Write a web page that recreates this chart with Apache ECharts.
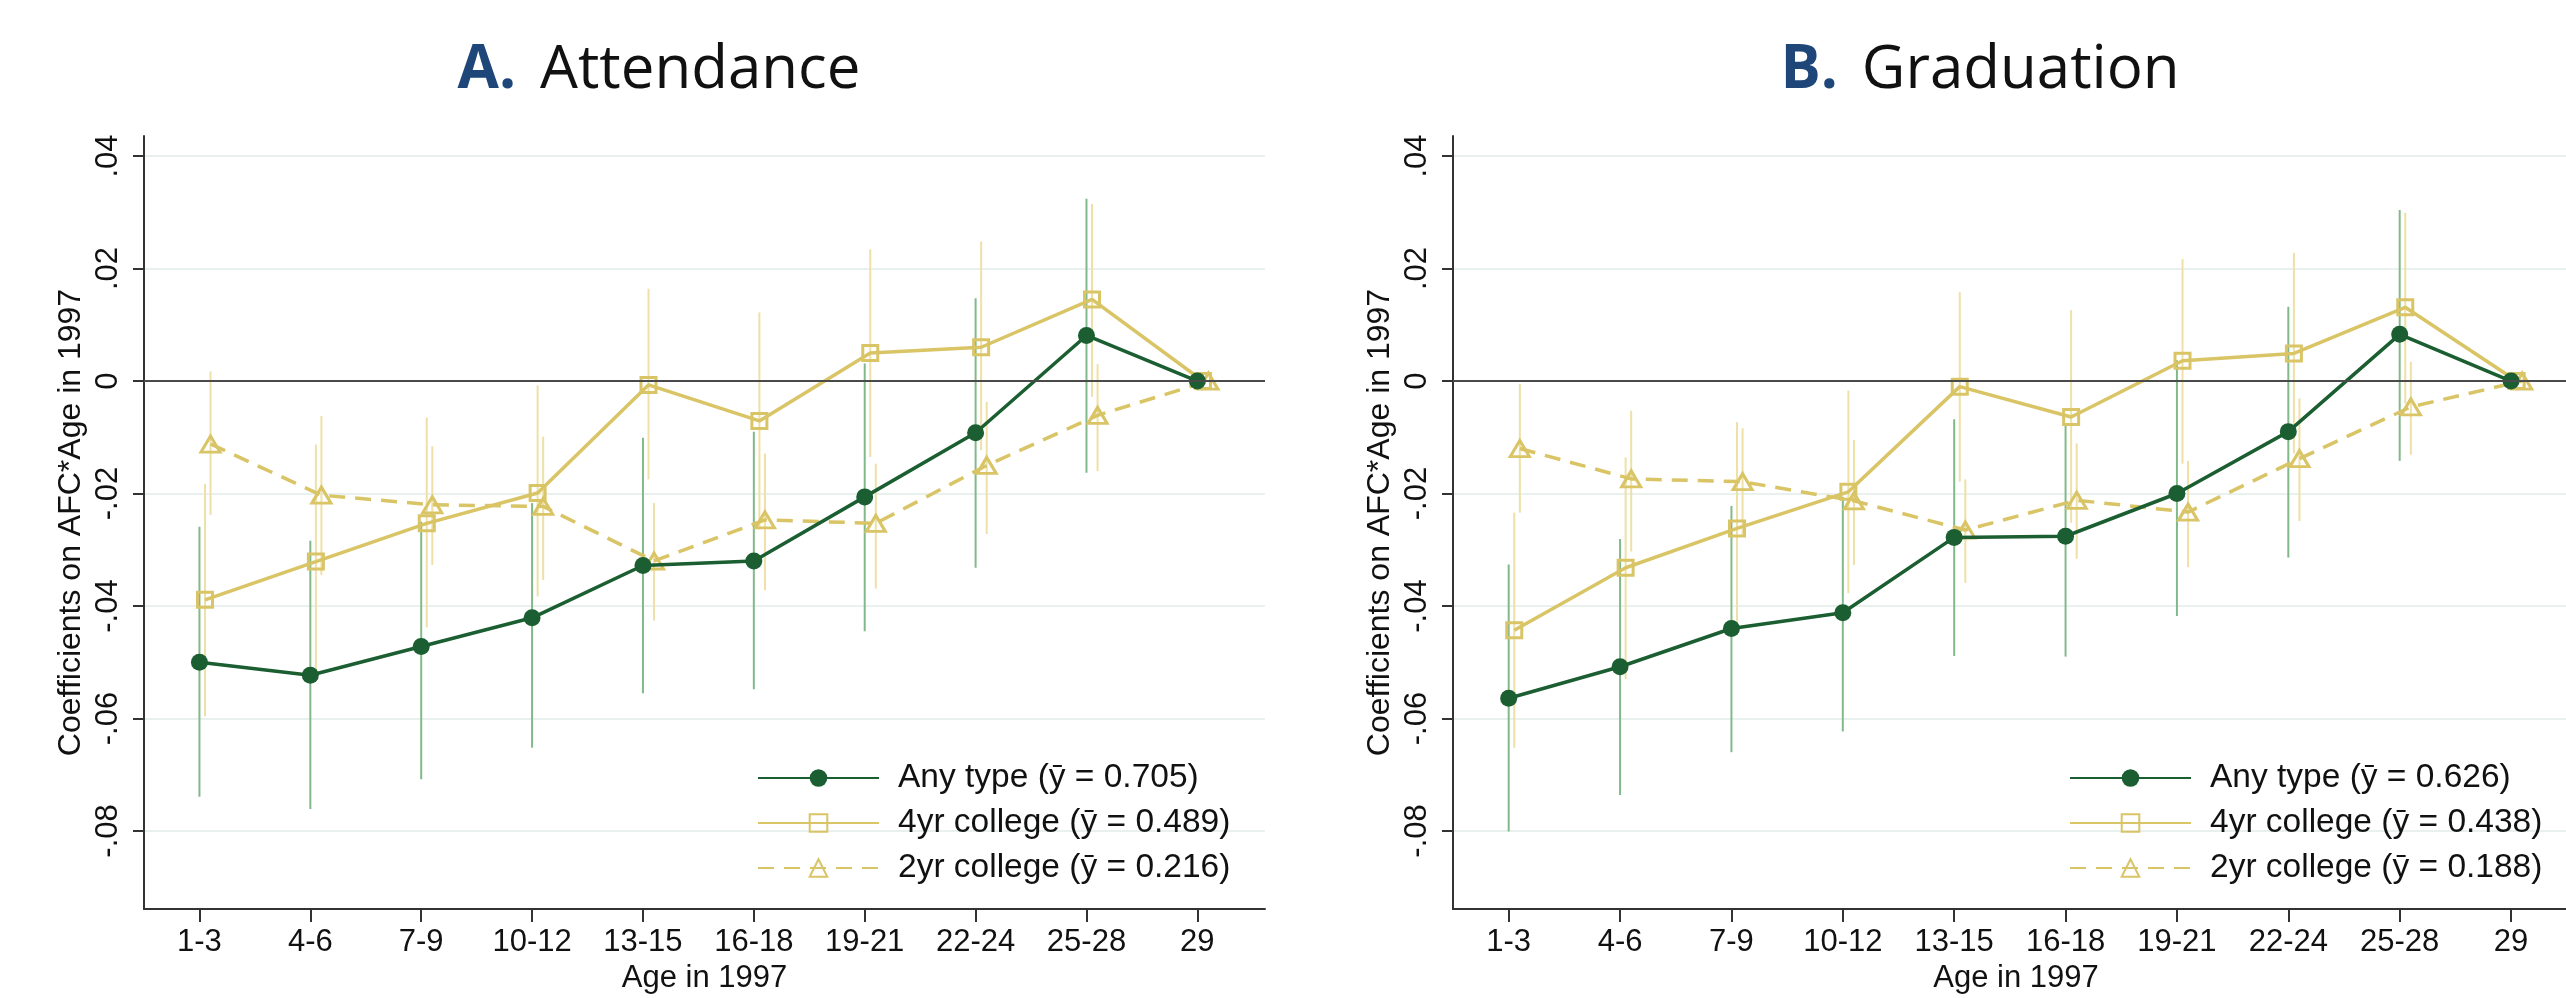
<!DOCTYPE html>
<html>
<head>
<meta charset="utf-8">
<title>Attendance and graduation</title>
<script src="https://cdn.jsdelivr.net/npm/echarts@6.0.0/dist/echarts.min.js"></script>
<style>
  body { margin: 0; background: #fff; }
  #main { width: 2566px; height: 998px; }
</style>
</head>
<body>
<div id="main"></div>
<script>
  // age groups on the x axis
  var ageGroups = ['1-3', '4-6', '7-9', '10-12', '13-15', '16-18', '19-21', '22-24', '25-28', '29'];
  var yTicks = [-0.08, -0.06, -0.04, -0.02, 0, 0.02, 0.04];

  // A. Attendance
  var attNames = ['Any type (ȳ = 0.705)', '4yr college (ȳ = 0.489)', '2yr college (ȳ = 0.216)'];
  var attAny = [-0.0500, -0.0523, -0.0472, -0.0421, -0.0328, -0.0320, -0.0206, -0.0092, 0.0081, 0];
  var attAnyLo = [-0.0739, -0.0761, -0.0708, -0.0652, -0.0555, -0.0548, -0.0445, -0.0332, -0.0163, 0];
  var attAnyHi = [-0.0259, -0.0284, -0.0250, -0.0217, -0.0101, -0.0090, 0.0031, 0.0147, 0.0324, 0];
  var att4yr = [-0.0389, -0.0321, -0.0253, -0.0199, -0.0007, -0.0071, 0.0050, 0.0060, 0.0145, 0];
  var att4yrLo = [-0.0596, -0.0528, -0.0438, -0.0383, -0.0175, -0.0264, -0.0135, -0.0123, -0.0028, 0];
  var att4yrHi = [-0.0183, -0.0113, -0.0065, -0.0008, 0.0164, 0.0122, 0.0234, 0.0248, 0.0315, 0];
  var att2yr = [-0.0112, -0.0203, -0.0220, -0.0223, -0.0320, -0.0247, -0.0253, -0.0150, -0.0061, 0];
  var att2yrLo = [-0.0238, -0.0345, -0.0327, -0.0354, -0.0426, -0.0372, -0.0369, -0.0272, -0.0160, 0];
  var att2yrHi = [0.0017, -0.0062, -0.0116, -0.0099, -0.0217, -0.0129, -0.0147, -0.0037, 0.0030, 0];

  // B. Graduation
  var grdNames = ['Any type (ȳ = 0.626)', '4yr college (ȳ = 0.438)', '2yr college (ȳ = 0.188)'];
  var grdAny = [-0.0564, -0.0508, -0.0440, -0.0412, -0.0278, -0.0276, -0.0200, -0.0090, 0.0083, 0];
  var grdAnyLo = [-0.0801, -0.0736, -0.0660, -0.0623, -0.0489, -0.0490, -0.0418, -0.0314, -0.0142, 0];
  var grdAnyHi = [-0.0326, -0.0281, -0.0222, -0.0206, -0.0068, -0.0075, 0.0037, 0.0132, 0.0304, 0];
  var grd4yr = [-0.0443, -0.0332, -0.0262, -0.0197, -0.0010, -0.0064, 0.0036, 0.0049, 0.0131, 0];
  var grd4yrLo = [-0.0652, -0.0530, -0.0440, -0.0377, -0.0179, -0.0252, -0.0147, -0.0129, -0.0040, 0];
  var grd4yrHi = [-0.0234, -0.0136, -0.0073, -0.0017, 0.0158, 0.0126, 0.0217, 0.0228, 0.0299, 0];
  var grd2yr = [-0.0120, -0.0174, -0.0179, -0.0213, -0.0265, -0.0212, -0.0233, -0.0138, -0.0046, 0];
  var grd2yrLo = [-0.0234, -0.0303, -0.0275, -0.0327, -0.0359, -0.0316, -0.0331, -0.0249, -0.0131, 0];
  var grd2yrHi = [-0.0005, -0.0053, -0.0084, -0.0105, -0.0175, -0.0111, -0.0142, -0.0031, 0.0034, 0];

  var GREEN = '#1b5e31';
  var GOLD = '#d9c466';
  var CI_GREEN = '#82b98a';
  var CI_GOLD = '#eee0a6';
  var FONT = '"Liberation Sans", Arial, sans-serif';
  // small horizontal shift between the three series, in category units
  var dodge = [0, 0.05, 0.10];

  var chartDom = document.getElementById('main');
  var myChart = echarts.init(chartDom);

  function ciSeries(panel, s, lo, hi, color) {
    return {
      type: 'custom',
      xAxisIndex: panel,
      yAxisIndex: panel,
      z: 1,
      silent: true,
      encode: { x: 0, y: [1, 2] },
      data: ageGroups.map(function (g, i) { return [i + dodge[s], lo[i], hi[i]]; }),
      renderItem: function (params, api) {
        var x = api.value(0);
        var p1 = api.coord([x, api.value(1)]);
        var p2 = api.coord([x, api.value(2)]);
        return {
          type: 'line',
          shape: { x1: p1[0], y1: p1[1], x2: p2[0], y2: p2[1] },
          style: { stroke: color, lineWidth: 2 }
        };
      }
    };
  }

  function lineSeries(panel, s, name, est) {
    var st = [
      { symbol: 'circle', size: 17, fill: GREEN, line: GREEN, type: 'solid' },
      { symbol: 'rect', size: 15, fill: 'rgba(255,255,255,0)', line: GOLD, type: 'solid' },
      { symbol: 'triangle', size: [19, 16], fill: 'rgba(255,255,255,0)', line: GOLD, type: [16, 10] }
    ][s];
    var ser = {
      name: name,
      type: 'line',
      xAxisIndex: panel,
      yAxisIndex: panel,
      z: 3 - s / 10,
      data: ageGroups.map(function (g, i) { return [i + dodge[s], est[i]]; }),
      symbol: st.symbol,
      symbolSize: st.size,
      showAllSymbol: true,
      lineStyle: { color: st.line, width: 3.5, type: st.type },
      itemStyle: { color: st.fill, borderColor: st.line, borderWidth: s === 0 ? 0 : 3 }
    };
    if (s === 0) {
      ser.markLine = {
        silent: true,
        symbol: 'none',
        label: { show: false },
        lineStyle: { color: '#4a4a4a', width: 2, type: 'solid' },
        data: [{ yAxis: 0 }]
      };
    }
    return ser;
  }

  function xAxis(grid) {
    return {
      type: 'value',
      gridIndex: grid,
      min: -0.5,
      max: 9.61,
      axisLine: { show: true, onZero: false, lineStyle: { color: '#333', width: 2 } },
      axisTick: { show: true, length: 13, customValues: ageGroups.map(function (g, i) { return i; }), lineStyle: { color: '#333', width: 2 } },
      axisLabel: {
        customValues: ageGroups.map(function (g, i) { return i; }),
        formatter: function (v) { return ageGroups[Math.round(v)]; },
        margin: 18, fontSize: 31, fontFamily: FONT, color: '#111'
      },
      splitLine: { show: false },
      name: 'Age in 1997',
      nameLocation: 'middle',
      nameGap: 54,
      nameTextStyle: { fontSize: 31, fontFamily: FONT, color: '#111' }
    };
  }

  function yAxis(grid) {
    return {
      type: 'value',
      gridIndex: grid,
      min: -0.09387,
      max: 0.04356,
      axisLine: { show: true, onZero: false, lineStyle: { color: '#333', width: 2 } },
      axisTick: { show: true, length: 11, customValues: yTicks, lineStyle: { color: '#333', width: 2 } },
      axisLabel: {
        customValues: yTicks,
        rotate: 90,
        margin: 20,
        fontSize: 31, fontFamily: FONT, color: '#111',
        formatter: function (v) {
          var t = String(Math.round(v * 100) / 100);
          return t.replace('0.', '.');
        }
      },
      splitLine: { show: true, lineStyle: { color: '#e9f1ef', width: 2 } },
      name: 'Coefficients on AFC*Age in 1997',
      nameLocation: 'middle',
      nameRotate: 90,
      nameGap: 57,
      nameTextStyle: { fontSize: 32, fontFamily: FONT, color: '#111' }
    };
  }

  function legend(left, names) {
    return {
      data: names,
      orient: 'vertical',
      left: left,
      top: 761,
      padding: 0,
      itemWidth: 121,
      itemHeight: 22,
      itemGap: 11,
      selectedMode: false,
      textStyle: { fontSize: 33.5, lineHeight: 34, fontFamily: FONT, color: '#111', padding: [0, 0, 0, 14] }
    };
  }

  function title(left, letter, word) {
    return {
      text: '{a|' + letter + '}{b|' + word + '}',
      left: left,
      top: 36,
      textAlign: 'center',
      textStyle: {
        rich: {
          a: { fontSize: 60, fontFamily: '"Open Sans", Lato, sans-serif', fontWeight: 'bold', color: '#1e4679' },
          b: { fontSize: 60, fontFamily: '"Open Sans", Lato, sans-serif', fontWeight: 'normal', color: '#111', padding: [0, 0, 0, 24] }
        }
      }
    };
  }

  var option = {
    backgroundColor: '#fff',
    animation: false,
    title: [title(654, 'A.', 'Attendance'), title(1975, 'B.', 'Graduation')],
    legend: [legend(757, attNames), legend(2069, grdNames)],
    grid: [
      { left: 144, top: 136, width: 1121, height: 773, outerBoundsMode: 'none' },
      { left: 1453, top: 136, width: 1126, height: 773, outerBoundsMode: 'none' }
    ],
    xAxis: [xAxis(0), xAxis(1)],
    yAxis: [yAxis(0), yAxis(1)],
    series: [
      ciSeries(0, 0, attAnyLo, attAnyHi, CI_GREEN),
      ciSeries(0, 1, att4yrLo, att4yrHi, CI_GOLD),
      ciSeries(0, 2, att2yrLo, att2yrHi, CI_GOLD),
      lineSeries(0, 0, attNames[0], attAny),
      lineSeries(0, 1, attNames[1], att4yr),
      lineSeries(0, 2, attNames[2], att2yr),
      ciSeries(1, 0, grdAnyLo, grdAnyHi, CI_GREEN),
      ciSeries(1, 1, grd4yrLo, grd4yrHi, CI_GOLD),
      ciSeries(1, 2, grd2yrLo, grd2yrHi, CI_GOLD),
      lineSeries(1, 0, grdNames[0], grdAny),
      lineSeries(1, 1, grdNames[1], grd4yr),
      lineSeries(1, 2, grdNames[2], grd2yr)
    ]
  };

  myChart.setOption(option);
</script>
</body>
</html>
